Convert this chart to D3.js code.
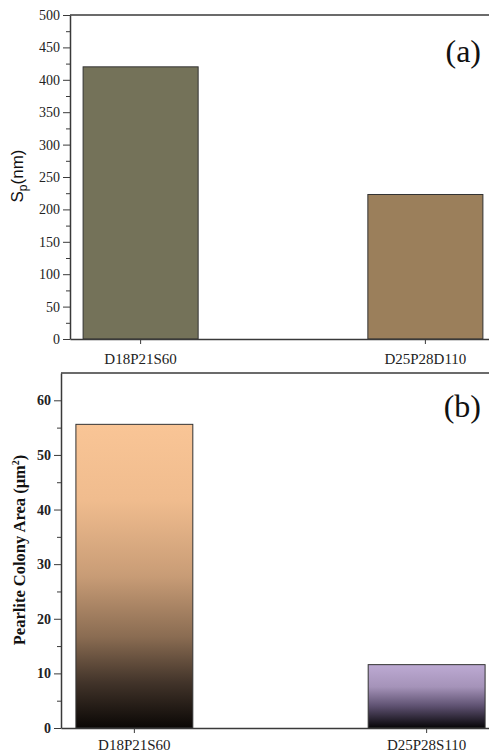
<!DOCTYPE html>
<html lang="en">
<head>
<meta charset="utf-8">
<title>Sp and pearlite colony area</title>
<script src="https://d3js.org/d3.v7.min.js"></script>
<style>
  body { margin: 0; background: #fff; }
  svg { display: block; }
</style>
</head>
<body>
<script>
// data
var spCats = ["D18P21S60", "D25P28D110"];
var spValues = [420, 223];
var spMajorTicks = [0, 50, 100, 150, 200, 250, 300, 350, 400, 450, 500];
var spMinorTicks = [25, 75, 125, 175, 225, 275, 325, 375, 425, 475];

var areaCats = ["D18P21S60", "D25P28S110"];
var areaValues = [55.6, 11.6];
var areaMajorTicks = [0, 10, 20, 30, 40, 50, 60];
var areaMinorTicks = [5, 15, 25, 35, 45, 55];

var width = 489, height = 753;
var serif = "'Liberation Serif', 'Times New Roman', serif";
var sans = "'Liberation Sans', Arial, sans-serif";
var axisColor = "#3a3a3a";

var svg = d3.select("body").append("svg")
    .attr("width", width)
    .attr("height", height);

var defs = svg.append("defs");

// gradients for panel (b)
var grads = [
  [[0, "#f9c596"], [0.25, "#f0bc8e"], [0.5, "#c89c76"], [0.7, "#8a6c52"], [0.85, "#42342a"], [1, "#0a0705"]],
  [[0, "#bdaad3"], [0.35, "#a593b9"], [0.65, "#5f5272"], [1, "#060507"]]
];
grads.forEach(function(stops, i) {
  var lg = defs.append("linearGradient")
      .attr("id", "grad" + i)
      .attr("x1", 0).attr("y1", 0).attr("x2", 0).attr("y2", 1);
  stops.forEach(function(s) {
    lg.append("stop").attr("offset", s[0]).attr("stop-color", s[1]);
  });
});

function panel(opt) {
  var g = svg.append("g");

  var x = d3.scaleBand()
      .domain(opt.cats)
      .range([opt.left, opt.right])
      .paddingInner(opt.padIn)
      .paddingOuter(opt.padOut);

  var y = d3.scaleLinear()
      .domain([0, opt.max])
      .range([opt.bottom, opt.top]);

  // bars
  g.selectAll("rect.bar")
      .data(opt.values)
      .enter().append("rect")
      .attr("class", "bar")
      .attr("x", function(d, i) { return x(opt.cats[i]); })
      .attr("width", x.bandwidth())
      .attr("y", function(d) { return y(d); })
      .attr("height", function(d) { return y(0) - y(d); })
      .attr("fill", function(d, i) { return opt.fill(i); })
      .attr("stroke", "#333")
      .attr("stroke-width", 1);

  // top frame line
  g.append("line")
      .attr("x1", opt.left).attr("x2", opt.right)
      .attr("y1", opt.top).attr("y2", opt.top)
      .attr("stroke", axisColor)
      .attr("stroke-width", 1.5);

  // minor y ticks
  var minor = g.append("g")
      .attr("transform", "translate(" + opt.left + ",0)")
      .call(d3.axisLeft(y).tickValues(opt.minor).tickSize(4).tickFormat(""));
  minor.select(".domain").remove();
  minor.selectAll("line").attr("stroke", axisColor);

  // major y ticks
  var yAxis = g.append("g")
      .attr("transform", "translate(" + opt.left + ",0)")
      .call(d3.axisLeft(y).tickValues(opt.major).tickSize(7).tickSizeOuter(0).tickPadding(3));
  yAxis.attr("font-family", serif).attr("font-size", opt.tickFont);
  yAxis.select(".domain").attr("stroke", axisColor).attr("stroke-width", 1.5);
  yAxis.selectAll(".tick line").attr("stroke", axisColor);
  yAxis.selectAll("text")
      .attr("fill", "#222")
      .attr("font-weight", opt.tickWeight);

  // x axis
  var xAxis = g.append("g")
      .attr("transform", "translate(0," + opt.bottom + ")")
      .call(d3.axisBottom(x).tickSize(5).tickSizeOuter(0).tickPadding(6));
  xAxis.attr("font-family", serif).attr("font-size", opt.catFont);
  xAxis.select(".domain").attr("stroke", axisColor).attr("stroke-width", 1.5);
  xAxis.selectAll(".tick line").attr("stroke", axisColor);
  xAxis.selectAll("text")
      .attr("fill", "#222")
      .attr("dy", opt.catDy);

  // panel label
  g.append("text")
      .attr("x", 481)
      .attr("y", opt.labelY)
      .attr("text-anchor", "end")
      .attr("fill", "#111")
      .attr("font-family", serif)
      .attr("font-size", 32)
      .text(opt.label);

  return g;
}

// (a)
var pa = panel({
  cats: spCats, values: spValues, max: 500,
  major: spMajorTicks, minor: spMinorTicks,
  left: 70, right: 496, top: 15, bottom: 339,
  padIn: 0.596, padOut: 0.046,
  fill: function(i) { return ["#747259", "#9b7f5b"][i]; },
  tickFont: 14, tickWeight: "normal", catFont: 15, catDy: "0.9em",
  label: "(a)", labelY: 62
});

var ta = pa.append("text")
    .attr("transform", "translate(23,176) rotate(-90)")
    .attr("text-anchor", "middle")
    .attr("fill", "#111")
    .attr("font-family", sans)
    .attr("font-size", 17);
ta.append("tspan").text("S");
ta.append("tspan").attr("dy", 4).attr("font-size", 12).text("p");
ta.append("tspan").attr("dy", -4).text("(nm)");

// (b)
var pb = panel({
  cats: areaCats, values: areaValues, max: 65,
  major: areaMajorTicks, minor: areaMinorTicks,
  left: 61, right: 500, top: 373, bottom: 728,
  padIn: 0.6, padOut: 0.051,
  fill: function(i) { return "url(#grad" + i + ")"; },
  tickFont: 14, tickWeight: "bold", catFont: 15, catDy: "0.72em",
  label: "(b)", labelY: 417
});

var tb = pb.append("text")
    .attr("transform", "translate(25,550) rotate(-90)")
    .attr("text-anchor", "middle")
    .attr("fill", "#111")
    .attr("font-family", serif)
    .attr("font-size", 16.5)
    .attr("font-weight", "bold");
tb.append("tspan").text("Pearlite Colony Area (\u03bcm");
tb.append("tspan").attr("dy", -6).attr("font-size", 10).text("2");
tb.append("tspan").attr("dy", 6).text(")");
</script>
</body>
</html>
